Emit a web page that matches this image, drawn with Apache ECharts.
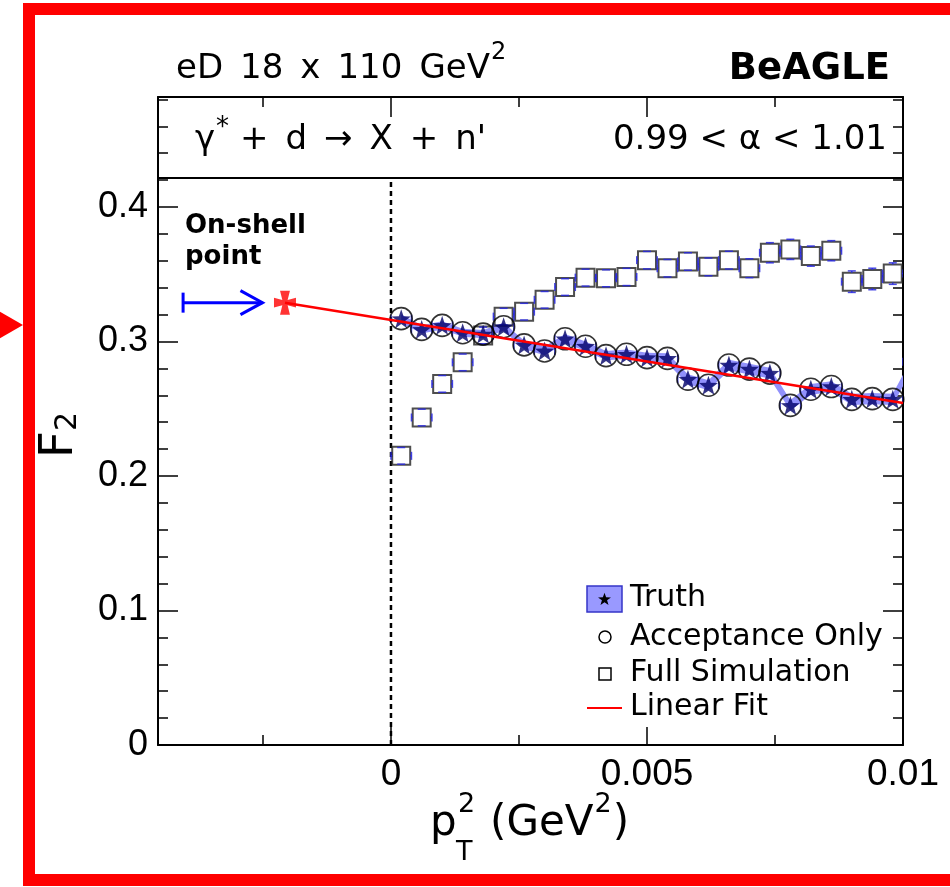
<!DOCTYPE html>
<html>
<head>
<meta charset="UTF-8">
<title>F2 vs pT2 - BeAGLE</title>
<style>
  * { margin: 0; padding: 0; box-sizing: border-box; }
  html, body { width: 100%; height: 100%; background: #fff; }
  #main { width: 950px; height: 887px; }
</style>
</head>
<body>
<div id="main"></div>
<script src="https://cdn.jsdelivr.net/npm/echarts@6/dist/echarts.min.js"></script>
<script>
// pT^2 bin centres (GeV^2), last one lies just past the frame
var binCentres = [0.0002, 0.0006, 0.0010, 0.0014, 0.0018, 0.0022, 0.0026, 0.0030, 0.0034,
    0.0038, 0.0042, 0.0046, 0.0050, 0.0054, 0.0058, 0.0062, 0.0066, 0.0070, 0.0074,
    0.0078, 0.0082, 0.0086, 0.0090, 0.0094, 0.0098, 0.0102];
var binHalfWidth = 0.0002;

var truthF2 = [0.317, 0.309, 0.312, 0.3065, 0.3055, 0.311, 0.2975, 0.293, 0.302, 0.2965,
    0.2895, 0.2905, 0.288, 0.2875, 0.272, 0.2675, 0.2825, 0.2795, 0.2765, 0.2525,
    0.2645, 0.2665, 0.257, 0.2575, 0.257, 0.285];
var truthErr = [0.003, 0.003, 0.003, 0.003, 0.003, 0.003, 0.0033, 0.0033, 0.0035, 0.0035,
    0.0035, 0.0035, 0.0037, 0.0037, 0.0037, 0.0037, 0.004, 0.004, 0.004, 0.004,
    0.004, 0.004, 0.0042, 0.0042, 0.0042, 0.0042];
var acceptF2 = [0.317, 0.309, 0.312, 0.3065, 0.3055, 0.311, 0.2975, 0.293, 0.302, 0.2965,
    0.2895, 0.2905, 0.288, 0.2875, 0.272, 0.2675, 0.2825, 0.2795, 0.2765, 0.2525,
    0.2645, 0.2665, 0.257, 0.2575, 0.257, 0.285];
var fullSimF2 = [0.215, 0.2435, 0.2685, 0.2845, 0.3045, 0.3185, 0.3222, 0.331, 0.3405, 0.3475,
    0.347, 0.348, 0.3605, 0.3545, 0.3595, 0.3555, 0.3605, 0.3545, 0.366, 0.3685,
    0.3635, 0.3675, 0.3445, 0.3465, 0.3505];
var fullSimErr = [0.0062, 0.0062, 0.0062, 0.0062, 0.0062, 0.0062, 0.0062, 0.0062, 0.0062, 0.0063,
    0.0063, 0.0064, 0.0065, 0.0065, 0.0065, 0.0066, 0.0066, 0.007, 0.0075, 0.0075,
    0.0075, 0.0075, 0.008, 0.008, 0.008];

var fitX = [-0.00207, 0.01];
var fitY = [0.3289, 0.2543];
var onShellPoint = [-0.00207, 0.3289];
var arrowX = [-0.00406, -0.00251];

var xMin = -0.00455, xMax = 0.01;
var yMin = 0, yMax = 0.4818;
var boxLineY = 0.4216;   // line under the header box
var xMajorTicks = [0, 0.005, 0.01];
var xMinorTicks = [-0.0025, 0.0025, 0.0075];

var starPts = [[0, -10], [2.35, -3.24], [9.51, -3.09], [3.8, 1.24], [5.88, 8.09], [0, 4.2],
    [-5.88, 8.09], [-3.8, 1.24], [-9.51, -3.09], [-2.35, -3.24]];
var starPath = 'path://M' + starPts.map(function (p) { return p.join(','); }).join('L') + 'Z';
var crossPath = 'path://M-2.4,-2.4L-4.5,-11L4.5,-11L2.4,-2.4L10,-4.5L10,4.5L2.4,2.4L4.5,11L-4.5,11L-2.4,2.4L-10,4.5L-10,-4.5Z';
var errColor = 'rgba(40,40,225,0.85)';
var font = 'DejaVu Sans';
var sp = '\u2002';

var measureCtx = document.createElement('canvas').getContext('2d');
function textWidth(s, size, weight) {
    measureCtx.font = (weight || 'normal') + ' ' + size + 'px "DejaVu Sans"';
    return measureCtx.measureText(s).width;
}

var myChart = echarts.init(document.getElementById('main'));

function zip(xs, ys, es) {
    var out = [];
    for (var i = 0; i < ys.length; i++) out.push(es ? [xs[i], ys[i], es[i]] : [xs[i], ys[i]]);
    return out;
}

// ROOT-like error caps; the bar itself is hidden behind the open marker
function errorRenderer(markerHalf, withVertical) {
    return function (params, api) {
        var x = api.value(0), y = api.value(1), e = api.value(2);
        var c = api.coord([x, y]);
        var l = api.coord([x - binHalfWidth, y]);
        var r = api.coord([x + binHalfWidth, y]);
        var st = { stroke: errColor, lineWidth: 1.5 };
        var kids = [
            { type: 'line', shape: { x1: l[0], y1: c[1] - 4, x2: l[0], y2: c[1] + 4 }, style: st },
            { type: 'line', shape: { x1: r[0], y1: c[1] - 4, x2: r[0], y2: c[1] + 4 }, style: st }
        ];
        if (l[0] < c[0] - markerHalf) {
            kids.push({ type: 'line', shape: { x1: l[0], y1: c[1], x2: c[0] - markerHalf, y2: c[1] }, style: st });
            kids.push({ type: 'line', shape: { x1: c[0] + markerHalf, y1: c[1], x2: r[0], y2: c[1] }, style: st });
        }
        if (withVertical) {
            var t = api.coord([x, y + e]), b = api.coord([x, y - e]);
            kids.push({ type: 'line', shape: { x1: c[0] - 4, y1: t[1], x2: c[0] + 4, y2: t[1] }, style: st });
            kids.push({ type: 'line', shape: { x1: c[0] - 4, y1: b[1], x2: c[0] + 4, y2: b[1] }, style: st });
            if (c[1] - t[1] > markerHalf) {
                kids.push({ type: 'line', shape: { x1: c[0], y1: t[1], x2: c[0], y2: c[1] - markerHalf }, style: st });
                kids.push({ type: 'line', shape: { x1: c[0], y1: c[1] + markerHalf, x2: c[0], y2: b[1] }, style: st });
            }
        }
        return { type: 'group', children: kids };
    };
}

function renderBand(params, api) {
    var upper = [], lower = [];
    for (var i = 0; i < truthF2.length; i++) {
        upper.push(api.coord([binCentres[i], truthF2[i] + truthErr[i]]));
        lower.unshift(api.coord([binCentres[i], truthF2[i] - truthErr[i]]));
    }
    return { type: 'polygon', shape: { points: upper.concat(lower) }, style: { fill: '#9191fb' } };
}

function renderArrow(params, api) {
    var a = api.coord([arrowX[0], onShellPoint[1]]);
    var b = api.coord([arrowX[1], onShellPoint[1]]);
    var st = { stroke: '#0000ff', lineWidth: 3, fill: null };
    return {
        type: 'group',
        children: [
            { type: 'line', shape: { x1: a[0], y1: a[1], x2: b[0], y2: b[1] }, style: st },
            { type: 'line', shape: { x1: a[0], y1: a[1] - 10, x2: a[0], y2: a[1] + 10 }, style: st },
            { type: 'polyline', shape: { points: [[b[0] - 22, b[1] - 12], [b[0], b[1]], [b[0] - 22, b[1] + 12]] }, style: st }
        ]
    };
}

function xAxisDef(pos, ticks, len, showLine, labels) {
    return {
        type: 'value', position: pos, min: xMin, max: xMax,
        axisLine: { show: showLine, onZero: false, lineStyle: { color: '#000', width: 2 } },
        axisTick: { inside: true, length: len, customValues: ticks, lineStyle: { color: '#000', width: 1.5 } },
        axisLabel: labels ? {
            customValues: labels, margin: 11, color: '#000', fontSize: 37, fontFamily: 'Liberation Sans',
            formatter: function (v) { return v === 0 ? '0' : String(+v.toFixed(4)); }
        } : { show: false },
        splitLine: { show: false }
    };
}

function yAxisDef(pos, interval, len, showLine, labels) {
    return {
        type: 'value', position: pos, min: yMin, max: yMax, interval: interval,
        axisLine: { show: showLine, onZero: false, lineStyle: { color: '#000', width: 2 } },
        axisTick: { inside: true, length: len, lineStyle: { color: '#000', width: 1.5 } },
        axisLabel: labels ? {
            margin: 10, color: '#000', fontSize: 36, fontFamily: 'Liberation Sans', showMaxLabel: false,
            formatter: function (v) { return v === 0 ? '0' : v.toFixed(1); }
        } : { show: false },
        splitLine: { show: false }
    };
}

var txt = function (x, y, text, size, extra) {
    var style = { x: x, y: y, text: text, fontSize: size, fontFamily: font, fill: '#000', verticalAlign: 'middle' };
    for (var k in extra) style[k] = extra[k];
    return { type: 'text', style: style, z: 10 };
};

var legendStar = starPts.map(function (p) { return [604.5 + p[0] * 0.68, 599.5 + p[1] * 0.68]; });

// header texts with superscripts placed after measured widths
var titleMain = 'eD' + sp + '18' + sp + 'x' + sp + '110' + sp + 'GeV';
var titleSupX = 176 + textWidth(titleMain, 34) + 1;
var gammaX = 195, gammaStarX = gammaX + textWidth('\u03b3', 34) + 1;
var processRestX = gammaStarX + textWidth('*', 26);
var unitX = 490, unitSupX = unitX + textWidth('(GeV', 42) + 1;
var unitCloseX = unitSupX + textWidth('2', 27) + 1;

var option = {
    animation: false,
    backgroundColor: '#fff',
    textStyle: { fontFamily: font },
    grid: { left: 158, right: 47, top: 97, bottom: 142 },
    xAxis: [
        xAxisDef('bottom', xMajorTicks, 18, true, xMajorTicks),
        xAxisDef('bottom', xMinorTicks, 10, false, null),
        xAxisDef('top', xMajorTicks, 20, true, null),
        xAxisDef('top', xMinorTicks, 10, false, null)
    ],
    yAxis: [
        yAxisDef('left', 0.1, 20, true, true),
        yAxisDef('left', 0.02, 10, false, false),
        yAxisDef('right', 0.1, 20, true, false),
        yAxisDef('right', 0.02, 10, false, false)
    ],
    series: [
        {
            name: 'Truth band', type: 'custom', clip: true, z: 1,
            data: [[binCentres[0], truthF2[0]]],
            renderItem: renderBand
        },
        {
            name: 'Header line', type: 'line', showSymbol: false, z: 2,
            data: [[xMin, boxLineY], [xMax, boxLineY]],
            lineStyle: { color: '#000', width: 2 }
        },
        {
            name: 'Zero', type: 'line', showSymbol: false, z: 2,
            data: [[0, yMin], [0, boxLineY]],
            lineStyle: { color: '#000', width: 2.5, type: [5, 4] }
        },
        {
            name: 'Full Simulation', type: 'scatter', z: 3,
            data: zip(binCentres, fullSimF2),
            symbol: 'rect', symbolSize: 18,
            itemStyle: { color: 'rgba(0,0,0,0)', borderColor: '#222', borderWidth: 2 }
        },
        {
            name: 'Full Simulation errors', type: 'custom', z: 4, clip: true,
            data: zip(binCentres, fullSimF2, fullSimErr),
            renderItem: errorRenderer(9, true)
        },
        {
            name: 'Truth', type: 'scatter', z: 5,
            data: zip(binCentres, truthF2),
            symbol: starPath, symbolSize: 19,
            itemStyle: { color: '#000068' }
        },
        {
            name: 'Acceptance Only', type: 'scatter', z: 6,
            data: zip(binCentres, acceptF2),
            symbol: 'circle', symbolSize: 22,
            itemStyle: { color: 'rgba(0,0,0,0)', borderColor: '#000', borderWidth: 1.6 }
        },
        {
            name: 'Truth errors', type: 'custom', z: 6, clip: true,
            data: zip(binCentres, truthF2, truthErr),
            renderItem: errorRenderer(11, false)
        },
        {
            name: 'Linear Fit', type: 'line', showSymbol: false, z: 7,
            data: zip(fitX, fitY),
            lineStyle: { color: '#ff0000', width: 2.5 }
        },
        {
            name: 'On-shell point', type: 'scatter', z: 8,
            data: [onShellPoint],
            symbol: crossPath, symbolSize: [22, 24],
            itemStyle: { color: '#ff0000' }
        },
        {
            name: 'Arrow', type: 'custom', z: 8,
            data: [[arrowX[0], onShellPoint[1]]],
            renderItem: renderArrow
        }
    ],
    graphic: [
        // red frame round the figure
        { type: 'rect', shape: { x: 29, y: 9, width: 1000, height: 871 }, style: { fill: null, stroke: '#ff0000', lineWidth: 12 }, z: 20 },
        { type: 'polygon', shape: { points: [[-5, 309], [23, 325], [-5, 341]] }, style: { fill: '#ff0000' }, z: 20 },

        txt(176, 69, titleMain, 34, {}),
        txt(titleSupX, 53, '2', 24, {}),
        txt(890, 69, 'BeAGLE', 37, { align: 'right', fontWeight: 'bold' }),
        txt(gammaX, 140, '\u03b3', 34, {}),
        txt(gammaStarX, 128, '*', 26, {}),
        txt(processRestX, 140, ' +' + sp + 'd' + sp + '\u2192' + sp + 'X' + sp + '+' + sp + 'n\'', 34, {}),
        txt(887, 140, '0.99 < \u03b1 < 1.01', 34, { align: 'right' }),
        txt(185, 226, 'On-shell', 26, { fontWeight: 'bold' }),
        txt(185, 257, 'point', 26, { fontWeight: 'bold' }),

        // axis titles
        {
            type: 'text', x: 60, y: 435, rotation: Math.PI / 2, z: 10,
            style: {
                text: '{m|F}{s|2}', align: 'center', verticalAlign: 'middle', fill: '#000',
                rich: { m: { fontSize: 47, fontFamily: font }, s: { fontSize: 30, fontFamily: font, verticalAlign: 'bottom' } }
            }
        },
        txt(430, 824, 'p', 42, {}),
        txt(458, 805, '2', 27, {}),
        txt(456, 853, 'T', 27, {}),
        txt(unitX, 824, '(GeV', 42, {}),
        txt(unitSupX, 805, '2', 27, {}),
        txt(unitCloseX, 824, ')', 42, {}),

        // legend
        { type: 'rect', shape: { x: 587, y: 586, width: 35, height: 26 }, style: { fill: '#9999ff', stroke: '#3535c8', lineWidth: 1.5 }, z: 10 },
        { type: 'polygon', shape: { points: legendStar }, style: { fill: '#000' }, z: 11 },
        { type: 'circle', shape: { cx: 605, cy: 637, r: 6 }, style: { fill: null, stroke: '#000', lineWidth: 1.5 }, z: 10 },
        { type: 'rect', shape: { x: 599, y: 668, width: 12, height: 12 }, style: { fill: null, stroke: '#000', lineWidth: 1.5 }, z: 10 },
        { type: 'line', shape: { x1: 587, y1: 708, x2: 622, y2: 708 }, style: { stroke: '#ff0000', lineWidth: 2 }, z: 10 },
        txt(630, 598, 'Truth', 30, {}),
        txt(630, 637, 'Acceptance Only', 30, {}),
        txt(630, 673, 'Full Simulation', 30, {}),
        txt(630, 707, 'Linear Fit', 30, {})
    ]
};

myChart.setOption(option);
</script>
</body>
</html>
